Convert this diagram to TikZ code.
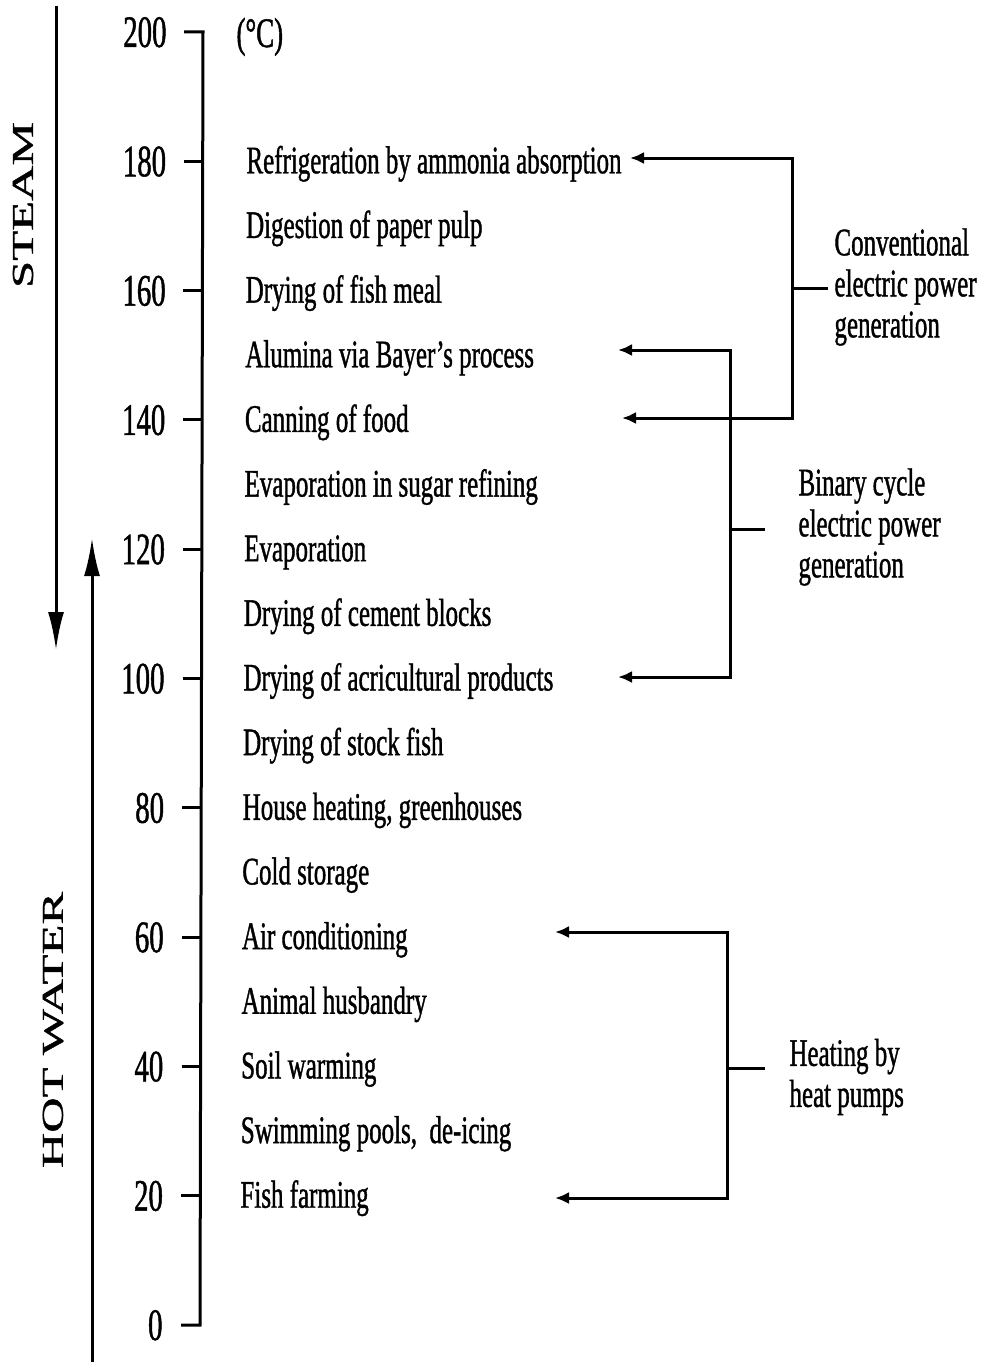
\documentclass[tikz,border=0pt]{standalone}
\usepackage{fontspec}
\setmainfont{Liberation Serif}[FakeStretch=0.64,FakeBold=1]
\newfontfamily\plainserif{Liberation Serif}[FakeBold=1]
\usetikzlibrary{arrows.meta}
\begin{document}
\begin{tikzpicture}[x=1pt,y=-1pt,line width=3pt,line join=miter,
  lbl/.style={anchor=base west,inner sep=0pt,font=\fontsize{39}{41}\selectfont},
  num/.style={anchor=base east,inner sep=0pt,font=\fontsize{45}{45}\selectfont},
  grp/.style={anchor=west,inner sep=0pt,align=left,font=\fontsize{39}{41}\selectfont},
  conn/.style={{Latex[length=14pt,width=12pt]}-{Latex[length=14pt,width=12pt]},line width=3pt},
  big/.style={-{Latex[length=38pt,width=16pt]},line width=3pt},
  side/.style={inner sep=0pt,rotate=90}]
\useasboundingbox (0,0) rectangle (986,1362);
% axis, ticks and numbers
\foreach \t in {0,20,...,200}{
  \pgfmathsetmacro\yy{1325-6.465*\t}
  \coordinate (tk\t) at ({181+0.015*\t},\yy);
  \coordinate (ax\t) at ({200+0.015*\t},\yy);
  \node[num] (n\t) at ({164+0.02*\t},\yy+15) {\t};
}
\foreach \t in {20,40,...,180}{\draw (tk\t) -- (ax\t);}
\draw (tk200) -- (ax200) -- (ax0) -- (tk0);
\node[lbl,font=\fontsize{42}{42}\selectfont] (unit) at (235,47) {(°C)};
% application labels
\foreach \t/\s in {180/Refrigeration by ammonia absorption,170/Digestion of paper pulp,160/Drying of fish meal,150/Alumina via Bayer's process,140/Canning of food,130/Evaporation in sugar refining,120/Evaporation,110/Drying of cement blocks,100/Drying of acricultural products,90/Drying of stock fish,80/{House heating, greenhouses},70/Cold storage,60/Air conditioning,50/Animal husbandry,40/Soil warming,30/{Swimming pools,\ \ de-icing},20/Fish farming}{
  \pgfmathsetmacro\yy{1325-6.465*\t}
  \node[lbl] (l\t) at ({239+0.0375*(\t-20)},\yy+12) {\s};
}
% side labels and arrows
\node[side] (steam) at (23,205) {\scalebox{1}[0.62]{\plainserif\fontsize{49}{49}\selectfont STEAM}};
\node[side] (hotw) at (53,1030) {\scalebox{1}[0.62]{\plainserif\fontsize{49}{49}\selectfont HOT WATER}};
\coordinate (sTop) at (56,6);
\coordinate (sTip) at (56,650);
\coordinate (wBot) at (92,1362);
\coordinate (wTip) at (92,538);
\draw[big] (sTop) -- (sTip);
\draw[big] (wBot) -- (wTip);
% conventional
\coordinate (aRef) at (630,158);
\coordinate (cvTop) at (792,158);
\coordinate (cvBot) at (792,418);
\coordinate (aCan) at (622,418);
\coordinate (cvMid) at (792,288);
\coordinate (cvStub) at (828,288);
\draw[conn] (aRef) -- (cvTop) -- (cvBot) -- (aCan);
\draw (cvMid) -- (cvStub);
\node[grp] (conv) at (833,287) {Conventional\\electric power\\generation};
% binary
\coordinate (aAlu) at (618,350);
\coordinate (bTop) at (730,350);
\coordinate (bBot) at (730,677);
\coordinate (aAgr) at (618,677);
\coordinate (bMid) at (730,529);
\coordinate (bStub) at (765,529);
\draw[conn] (aAlu) -- (bTop) -- (bBot) -- (aAgr);
\draw (bMid) -- (bStub);
\node[grp] (bin) at (797,527) {Binary cycle\\electric power\\generation};
% heat pumps
\coordinate (aAir) at (555,932);
\coordinate (hTop) at (727,932);
\coordinate (hBot) at (727,1198);
\coordinate (aFish) at (555,1198);
\coordinate (hMid) at (727,1068);
\coordinate (hStub) at (765,1068);
\draw[conn] (aAir) -- (hTop) -- (hBot) -- (aFish);
\draw (hMid) -- (hStub);
\node[grp] (heat) at (788,1077) {Heating by\\heat pumps};
\end{tikzpicture}
\end{document}
